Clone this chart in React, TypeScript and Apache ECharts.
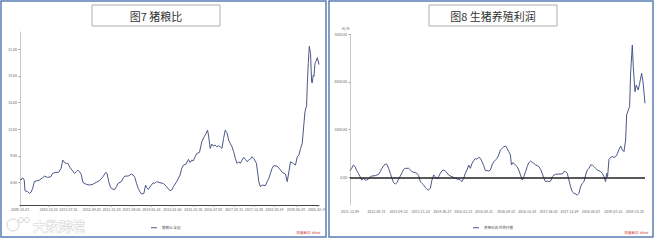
import React, { useEffect, useRef } from "react";
import * as echarts from "echarts";

// ---------- Chart 7: 猪粮比 ----------
const ratioDates = [
  "2009-10-23","2009-11-04","2009-11-25","2009-12-16","2009-12-25","2010-01-29","2010-02-19","2010-03-12","2010-04-02","2010-04-23",
  "2010-05-14","2010-06-25","2010-08-06","2010-08-27","2010-10-08","2010-11-19","2010-12-10","2011-01-21","2011-02-25","2011-03-28",
  "2011-04-18","2011-05-10","2011-06-01","2011-06-22","2011-07-21","2011-08-24","2011-09-14","2011-10-06","2011-10-27","2011-11-17",
  "2011-12-08","2011-12-30","2012-02-10","2012-03-23","2012-05-04","2012-06-15","2012-07-27","2012-09-10","2012-10-14","2012-10-31",
  "2012-11-21","2012-12-15","2013-01-15","2013-02-06","2013-02-27","2013-03-20","2013-05-01","2013-05-22","2013-06-13","2013-07-25",
  "2013-09-06","2013-09-27","2013-10-18","2013-11-09","2013-11-30","2013-12-21","2014-01-11","2014-02-10","2014-03-04","2014-03-16",
  "2014-04-07","2014-05-06","2014-06-09","2014-06-30","2014-07-21","2014-09-02","2014-10-14","2014-11-25","2015-01-07","2015-01-28",
  "2015-02-19","2015-04-02","2015-05-15","2015-06-05","2015-06-26","2015-07-30","2015-08-29","2015-09-19","2015-10-10","2015-10-31",
  "2015-11-21","2015-12-13","2016-01-16","2016-02-15","2016-03-16","2016-04-10","2016-04-27","2016-05-10","2016-05-31","2016-06-21",
  "2016-07-12","2016-08-03","2016-08-24","2016-09-14","2016-10-05","2016-10-27","2016-11-17","2016-12-08","2016-12-30","2017-01-20",
  "2017-02-10","2017-03-04","2017-03-25","2017-04-15","2017-05-06","2017-05-27","2017-06-18","2017-07-09","2017-07-30","2017-08-20",
  "2017-09-10","2017-10-02","2017-10-23","2017-11-13","2017-12-04","2018-01-08","2018-01-24","2018-02-06","2018-02-27","2018-03-20",
  "2018-05-01","2018-05-23","2018-06-13","2018-07-04","2018-07-25","2018-08-15","2018-09-27","2018-10-31","2018-11-30","2019-01-11",
  "2019-02-02","2019-02-23","2019-03-16","2019-04-19","2019-05-18","2019-06-09","2019-06-30","2019-07-21","2019-08-11","2019-09-02",
  "2019-09-15","2019-10-06","2019-10-14","2019-10-27","2019-11-09","2019-11-25","2019-12-08","2019-12-16","2019-12-29","2020-01-07",
  "2020-01-20","2020-02-02","2020-02-19","2020-03-11",
];
const ratioValues = [
  6.38,6.26,6.53,6.26,5.06,4.95,4.76,4.88,5.33,6.08,
  6.15,6.26,6.53,6.71,6.56,6.64,7.01,7.13,7.13,7.58,
  8.51,8.25,8.14,8.14,7.65,7.28,7.01,7.2,7.39,7.2,
  6.9,6.0,5.78,5.7,5.78,6.0,6.19,6.64,7.13,7.01,
  6.08,5.4,5.21,5.21,5.51,5.89,6.08,6.45,6.71,6.71,
  6.94,6.83,6.56,5.89,5.33,4.95,4.69,4.76,5.7,5.44,
  5.21,5.59,5.96,5.89,6.08,5.96,5.89,5.51,5.06,5.14,
  5.51,6.08,6.83,7.58,7.95,8.06,8.59,8.25,8.51,8.44,
  8.89,9.26,9.38,10.58,11.14,11.51,11.89,11.33,9.83,10.31,
  10.09,10.2,10.01,10.13,10.01,9.83,10.95,11.89,11.59,10.76,
  10.39,10.01,9.45,8.7,8.14,8.33,8.14,8.51,8.81,8.59,
  8.33,8.51,8.63,8.89,8.7,8.14,7.01,6.08,5.51,5.7,
  5.63,6.08,6.45,7.01,7.58,7.88,7.84,7.5,7.13,6.94,
  6.08,7.2,8.33,8.14,7.95,8.89,9.08,9.83,10.39,12.64,
  13.95,14.7,16.95,19.39,21.34,20.51,17.33,17.21,18.08,17.96,
  19.39,19.65,20.06,19.28,
];
const ratioTicks = [6, 9, 12, 15, 18, 21];
const ratioDateLabels = [
  "2009-10-23","2010-10-22","2011-07-01","2012-04-20","2012-12-28","2013-09-06","2014-05-16","2015-02-06",
  "2015-10-30","2016-07-08","2017-03-31","2017-12-08","2018-08-24","2019-05-24","2020-02-14",
];

// ---------- Chart 8: 生猪养殖利润 ----------
const profitDates = [
  "2011-12-09","2011-12-26","2012-01-12","2012-01-29","2012-02-15","2012-03-03","2012-03-20","2012-04-06","2012-04-23","2012-05-10",
  "2012-05-27","2012-06-13","2012-06-30","2012-07-16","2012-08-19","2012-09-22","2012-10-09","2012-10-26","2012-11-11","2012-11-28",
  "2012-12-15","2013-01-01","2013-01-18","2013-02-04","2013-02-20","2013-03-09","2013-03-26","2013-04-12","2013-04-29","2013-05-16",
  "2013-06-01","2013-06-18","2013-07-22","2013-08-08","2013-08-25","2013-09-10","2013-09-27","2013-10-14","2013-10-31","2013-11-17",
  "2013-12-03","2013-12-20","2014-01-06","2014-01-23","2014-02-08","2014-02-25","2014-03-14","2014-03-31","2014-04-17","2014-05-03",
  "2014-05-20","2014-06-06","2014-06-23","2014-07-10","2014-07-26","2014-08-12","2014-08-29","2014-09-15","2014-10-02","2014-11-04",
  "2014-11-21","2014-12-08","2014-12-25","2015-01-11","2015-01-28","2015-02-13","2015-03-02","2015-03-19","2015-04-05","2015-04-22",
  "2015-05-09","2015-05-26","2015-06-11","2015-06-28","2015-07-15","2015-08-01","2015-08-18","2015-09-03","2015-09-20","2015-10-07",
  "2015-10-24","2015-11-10","2015-11-27","2015-12-13","2015-12-30","2016-01-16","2016-02-02","2016-02-19","2016-03-07","2016-03-24",
  "2016-04-09","2016-04-26","2016-05-13","2016-05-23","2016-06-06","2016-06-16","2016-07-02","2016-07-19","2016-08-05","2016-08-22",
  "2016-09-08","2016-09-25","2016-10-12","2016-10-29","2016-11-14","2016-12-01","2016-12-18","2017-01-04","2017-01-21","2017-02-07",
  "2017-02-24","2017-03-13","2017-03-29","2017-04-15","2017-05-02","2017-05-19","2017-06-05","2017-06-22","2017-07-09","2017-07-25",
  "2017-08-11","2017-09-14","2017-10-17","2017-11-03","2017-11-20","2017-12-07","2017-12-23","2018-01-09","2018-01-26","2018-02-12",
  "2018-03-01","2018-03-17","2018-04-03","2018-04-20","2018-05-07","2018-05-24","2018-06-10","2018-06-26","2018-07-13","2018-07-30",
  "2018-08-16","2018-09-02","2018-09-18","2018-10-05","2018-10-22","2018-11-08","2018-11-25","2018-12-12","2018-12-28","2019-01-07",
  "2019-01-17","2019-01-31","2019-02-17","2019-03-05","2019-03-22","2019-04-08","2019-04-25","2019-05-12","2019-05-29","2019-06-15",
  "2019-07-01","2019-07-18","2019-07-28","2019-08-14","2019-08-27","2019-09-06","2019-09-23","2019-10-03","2019-10-20","2019-11-02",
  "2019-11-22","2019-12-06","2019-12-26","2020-01-09","2020-01-29",
];
const profitValues = [
  140,189,259,224,140,84,14,-56,-21,-56,
  -56,-35,14,28,35,63,119,189,238,280,
  273,189,84,-21,-112,-140,-112,-35,28,98,
  168,189,189,154,119,105,98,84,35,-91,
  -126,-161,-210,-252,-266,-231,-56,49,14,-35,
  14,84,140,154,133,98,49,28,14,-21,
  -35,-42,-56,-91,-21,84,154,259,189,294,
  350,399,378,420,399,329,245,140,140,133,
  154,259,329,364,399,469,573,608,643,657,
  608,538,469,259,308,294,259,224,154,49,
  -56,14,119,224,308,343,315,294,259,245,
  224,168,84,-21,-91,-77,-91,-77,14,49,
  63,70,70,119,119,84,-56,-196,-301,-336,
  -350,-371,-336,-196,-126,-91,49,154,189,259,
  259,224,189,154,140,119,84,14,-91,84,
  14,378,420,434,420,434,490,587,657,573,
  538,783,1308,1413,1483,2182,2776,2322,1797,1937,
  1832,1972,2182,2007,1552,
];
const profitTicks = [0, 1000, 2000, 3000];
const profitDateLabels = [
  "2011-12-09","2012-08-31","2013-04-12","2013-11-22","2014-06-27","2015-01-23","2015-08-21",
  "2016-04-01","2016-10-28","2017-06-02","2017-12-29","2018-08-03","2019-03-15","2019-10-18",
];

const FONT = "'Noto Sans CJK SC', 'Noto Sans', sans-serif";
const LINE_COLOR = "#4b5788";

const toTs = (s: string) => Date.UTC(+s.slice(0, 4), +s.slice(5, 7) - 1, +s.slice(8, 10));
const fmtDate = (v: number) => {
  const d = new Date(v);
  const p = (n: number) => (n < 10 ? "0" + n : "" + n);
  return d.getUTCFullYear() + "-" + p(d.getUTCMonth() + 1) + "-" + p(d.getUTCDate());
};

export default function App() {
  const ref = useRef<HTMLDivElement>(null);
  useEffect(() => {
    if (!ref.current) return;
    const chart = echarts.init(ref.current, null, { renderer: "svg" });
    const ratioData = ratioDates.map((d, i) => [toTs(d), ratioValues[i]]);
    const profitData = profitDates.map((d, i) => [toTs(d), profitValues[i]]);
    const smallLabel = { fontSize: 3.5, color: "#666", fontFamily: FONT };

    chart.setOption({
      animation: false,
      backgroundColor: "#fff",
      grid: [
        { left: 20, right: 339, top: 32, bottom: 35 },
        { left: 350, right: 13, top: 34.3, bottom: 35 },
      ],
      xAxis: [
        {
          type: "value",
          gridIndex: 0,
          min: toTs(ratioDates[0]),
          max: toTs(ratioDates[ratioDates.length - 1]),
          axisLine: { show: true, onZero: false, lineStyle: { color: "#444", width: 1 } },
          axisTick: { show: true, length: 1.5, customValues: ratioDateLabels.map(toTs), lineStyle: { color: "#666" } },
          axisLabel: { ...smallLabel, margin: 3, customValues: ratioDateLabels.map(toTs), formatter: fmtDate, showMinLabel: true, showMaxLabel: true },
          splitLine: { show: false },
        },
        {
          type: "value",
          gridIndex: 1,
          min: toTs(profitDates[0]),
          max: toTs(profitDates[profitDates.length - 1]),
          axisLine: { show: false, onZero: false },
          axisTick: { show: false },
          axisLabel: { ...smallLabel, margin: 4.5, customValues: profitDateLabels.map(toTs), formatter: fmtDate },
          splitLine: { show: false },
        },
      ],
      yAxis: [
        {
          type: "value",
          gridIndex: 0,
          min: 3.45,
          max: 22.95,
          axisLine: { show: true, lineStyle: { color: "#c8c8c8" } },
          axisTick: { show: true, length: 1.5, customValues: ratioTicks, lineStyle: { color: "#999" } },
          axisLabel: { ...smallLabel, margin: 3, customValues: ratioTicks, formatter: (v: number) => v.toFixed(2) },
          splitLine: { show: false },
        },
        {
          type: "value",
          gridIndex: 1,
          min: -580,
          max: 3000,
          name: "元/头",
          nameGap: 4,
          nameTextStyle: { ...smallLabel, align: "right" },
          axisLine: { show: true, lineStyle: { color: "#c8c8c8" } },
          axisTick: { show: true, length: 1.5, customValues: profitTicks, lineStyle: { color: "#999" } },
          axisLabel: { ...smallLabel, margin: 3, customValues: profitTicks, formatter: (v: number) => v.toFixed(2) },
          splitLine: { show: false },
        },
      ],
      legend: [
        {
          data: ["猪粮比:全国"],
          left: 146,
          top: 221,
          icon: "rect",
          itemWidth: 6,
          itemHeight: 1,
          itemGap: 2,
          textStyle: { fontSize: 3.5, color: "#555", fontFamily: FONT },
        },
        {
          data: ["养殖利润:外购仔猪"],
          left: 468,
          top: 221,
          icon: "rect",
          itemWidth: 6,
          itemHeight: 1,
          itemGap: 2,
          textStyle: { fontSize: 3.5, color: "#555", fontFamily: FONT },
        },
      ],
      series: [
        {
          name: "猪粮比:全国",
          type: "line",
          xAxisIndex: 0,
          yAxisIndex: 0,
          data: ratioData,
          showSymbol: false,
          lineStyle: { color: LINE_COLOR, width: 1 },
          itemStyle: { color: LINE_COLOR },
        },
        {
          name: "养殖利润:外购仔猪",
          type: "line",
          xAxisIndex: 1,
          yAxisIndex: 1,
          data: profitData,
          showSymbol: false,
          lineStyle: { color: LINE_COLOR, width: 1 },
          itemStyle: { color: LINE_COLOR },
          markLine: {
            silent: true,
            symbol: ["none", "none"],
            label: { show: false },
            lineStyle: { color: "#222", width: 1.5, type: "solid" },
            data: [{ yAxis: 0 }],
          },
        },
      ],
      graphic: [
        { type: "rect", shape: { x: 1, y: 1, width: 325, height: 236 }, style: { fill: "none", stroke: "#5b7db8", lineWidth: 1.5 }, z: 100 },
        { type: "rect", shape: { x: 329, y: 1, width: 324, height: 236 }, style: { fill: "none", stroke: "#5b7db8", lineWidth: 1.5 }, z: 100 },
        { type: "rect", shape: { x: 92, y: 5, width: 128, height: 21 }, style: { fill: "#fff", stroke: "#9a9a9a", lineWidth: 0.8 }, z: 100 },
        { type: "text", x: 156, y: 15.5, style: { text: "图7 猪粮比", fontSize: 11, fill: "#333", fontFamily: FONT, align: "center", verticalAlign: "middle" }, z: 101 },
        { type: "rect", shape: { x: 429, y: 5, width: 128, height: 21 }, style: { fill: "#fff", stroke: "#9a9a9a", lineWidth: 0.8 }, z: 100 },
        { type: "text", x: 493, y: 15.5, style: { text: "图8 生猪养殖利润", fontSize: 11, fill: "#333", fontFamily: FONT, align: "center", verticalAlign: "middle" }, z: 101 },
        { type: "text", x: 320, y: 232, style: { text: "数据来源: Wind", fontSize: 3.5, fill: "#d03838", fontFamily: FONT, align: "right", verticalAlign: "middle", fontStyle: "italic" }, z: 101 },
        { type: "text", x: 648, y: 232, style: { text: "数据来源: Wind", fontSize: 3.5, fill: "#d03838", fontFamily: FONT, align: "right", verticalAlign: "middle", fontStyle: "italic" }, z: 101 },
        { type: "circle", shape: { cx: 13, cy: 225, r: 6 }, style: { fill: "none", stroke: "#d4d4d4", lineWidth: 1 }, z: 50 },
        { type: "circle", shape: { cx: 21, cy: 220, r: 2.5 }, style: { fill: "none", stroke: "#d4d4d4", lineWidth: 1 }, z: 50 },
        { type: "circle", shape: { cx: 27, cy: 220, r: 2.5 }, style: { fill: "none", stroke: "#d4d4d4", lineWidth: 1 }, z: 50 },
        { type: "text", x: 33, y: 225, style: { text: "大数跨境", fontSize: 13, fill: "#fff", stroke: "#cfcfcf", lineWidth: 0.8, fontFamily: FONT, verticalAlign: "middle" }, z: 50 },
      ],
    });
    return () => chart.dispose();
  }, []);
  return <div ref={ref} style={{ position: "fixed", left: 0, top: 0, width: 658, height: 240 }} />;
}
